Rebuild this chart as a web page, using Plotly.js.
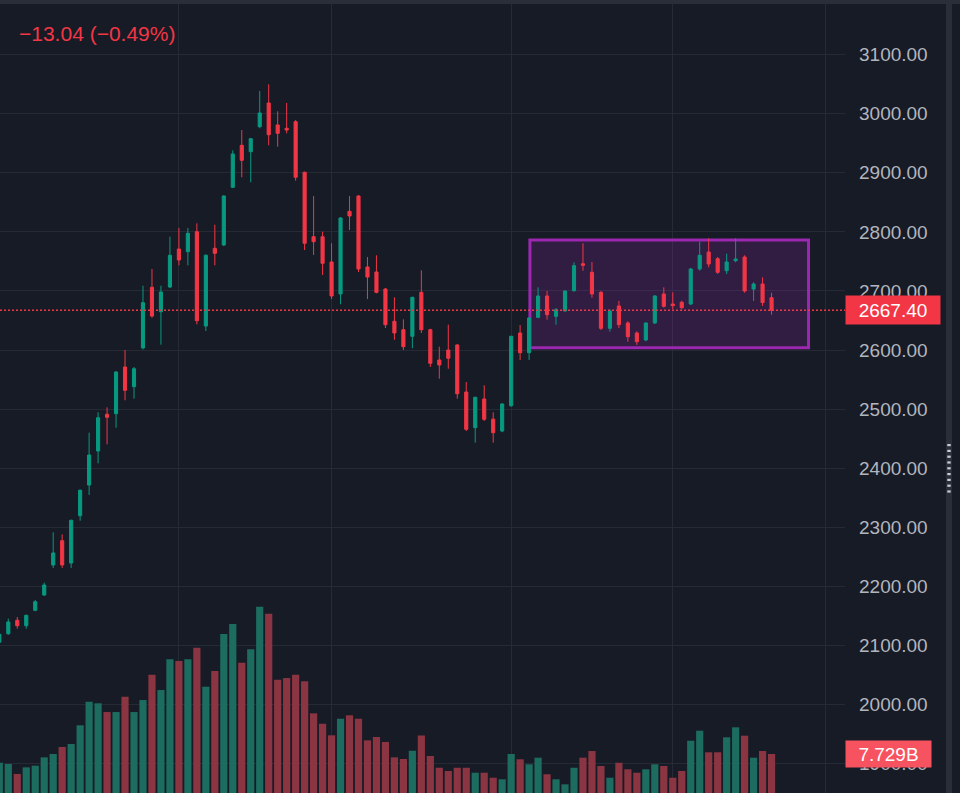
<!DOCTYPE html>
<html>
<head>
<meta charset="utf-8">
<script src="https://cdn.plot.ly/plotly-3.0.1.min.js"></script>
<style>
  html, body { margin: 0; padding: 0; background: #171b26; overflow: hidden; }
  #chart { width: 960px; height: 793px; }
</style>
</head>
<body>
<div id="chart"></div>
<script>
// ---- data (bar index -1 is the partly visible first bar) ----
const openP = [2105.4, 2120.0, 2142.7, 2133.5, 2159.6, 2185.5, 2236.3, 2277.4, 2239.6, 2319.7,
  2371.6, 2429.2, 2491.3, 2492.3, 2571.3, 2538.0, 2603.5, 2706.2, 2664.9, 2706.7,
  2771.0, 2766.5, 2800.3, 2640.7, 2772.2, 2777.8, 2875.4, 2946.5, 2935.7, 2978.0,
  3018.1, 2980.9, 2975.3, 2986.4, 2900.8, 2791.8, 2791.8, 2749.0, 2694.9, 2834.8,
  2860.7, 2740.6, 2732.1, 2703.3, 2648.7, 2634.4, 2623.3, 2697.7, 2634.4, 2583.2,
  2600.1, 2608.6, 2529.0, 2468.6, 2517.2, 2483.1, 2463.0, 2505.8, 2628.9, 2595.5,
  2655.4, 2691.5, 2657.1, 2666.1, 2700.4, 2746.1, 2731.6, 2697.7, 2636.8, 2674.6,
  2645.8, 2628.9, 2617.0, 2645.8, 2694.9, 2677.9, 2680.8, 2677.9, 2737.2, 2765.9,
  2754.6, 2734.3, 2751.2, 2757.5, 2703.3, 2711.8, 2688.6];
const highP = [2121.0, 2145.4, 2148.3, 2152.0, 2177.0, 2206.3, 2291.6, 2288.2, 2313.0, 2364.0,
  2460.1, 2494.7, 2503.1, 2564.0, 2600.1, 2571.3, 2708.9, 2737.2, 2708.9, 2791.8,
  2806.6, 2806.6, 2814.5, 2762.0, 2812.1, 2862.0, 2938.0, 2972.4, 2959.0, 3038.4,
  3049.7, 3004.0, 3018.1, 2989.3, 2902.0, 2860.7, 2800.3, 2780.7, 2825.0, 2860.7,
  2862.0, 2757.5, 2760.4, 2705.0, 2689.3, 2652.0, 2690.0, 2735.0, 2636.0, 2605.7,
  2642.9, 2610.0, 2545.9, 2521.0, 2540.4, 2494.7, 2510.0, 2624.0, 2642.4, 2656.0,
  2706.2, 2699.9, 2671.2, 2701.0, 2748.5, 2780.7, 2749.0, 2699.9, 2669.0, 2683.0,
  2648.7, 2631.7, 2647.0, 2693.0, 2706.2, 2697.7, 2683.5, 2739.0, 2783.4, 2789.1,
  2757.5, 2763.1, 2789.1, 2760.4, 2714.7, 2723.1, 2697.1];
const lowP = [2104.0, 2118.0, 2128.5, 2128.5, 2158.0, 2184.0, 2231.2, 2231.2, 2231.2, 2311.2,
  2354.7, 2408.4, 2440.5, 2468.6, 2515.0, 2517.7, 2601.0, 2654.8, 2609.1, 2705.0,
  2743.4, 2743.4, 2643.6, 2632.2, 2743.4, 2776.0, 2874.0, 2892.4, 2883.9, 2975.3,
  2946.5, 2944.1, 2966.8, 2886.6, 2769.3, 2760.9, 2727.0, 2686.4, 2677.4, 2803.2,
  2732.1, 2686.4, 2696.0, 2637.3, 2617.5, 2600.1, 2603.0, 2628.9, 2571.3, 2551.5,
  2568.4, 2517.7, 2463.0, 2443.2, 2480.0, 2443.2, 2461.0, 2504.0, 2583.2, 2583.2,
  2654.0, 2651.4, 2642.9, 2665.0, 2699.0, 2734.3, 2688.6, 2633.9, 2631.1, 2637.3,
  2614.1, 2608.6, 2615.0, 2644.0, 2671.7, 2669.0, 2669.0, 2676.0, 2734.3, 2740.0,
  2728.7, 2728.7, 2748.5, 2697.1, 2683.0, 2674.6, 2659.8];
const closeP = [2119.0, 2139.8, 2133.5, 2151.1, 2174.1, 2202.4, 2256.6, 2236.3, 2311.9, 2362.7,
  2422.4, 2485.5, 2486.2, 2562.9, 2531.9, 2568.4, 2680.1, 2657.6, 2698.3, 2760.4,
  2752.4, 2797.6, 2649.7, 2760.4, 2763.7, 2860.7, 2931.8, 2921.1, 2957.7, 3001.2,
  2964.4, 2966.8, 2972.4, 2892.4, 2780.7, 2783.4, 2746.8, 2691.5, 2823.5, 2826.9,
  2737.2, 2723.6, 2697.7, 2642.9, 2628.9, 2605.7, 2689.3, 2634.4, 2577.6, 2574.7,
  2586.1, 2526.1, 2465.9, 2520.1, 2482.8, 2460.1, 2508.7, 2623.3, 2595.5, 2654.2,
  2691.5, 2659.8, 2668.3, 2699.9, 2742.8, 2743.4, 2694.9, 2636.8, 2666.1, 2642.9,
  2622.6, 2614.1, 2645.8, 2691.5, 2674.0, 2675.1, 2671.7, 2737.2, 2760.4, 2745.6,
  2731.6, 2749.0, 2754.1, 2699.9, 2711.8, 2680.44, 2667.40];
// volume in billions
const volumeB = [6.00, 5.75, 3.77, 5.09, 5.41, 7.07, 7.73, 9.12, 9.71, 13.42,
  18.09, 17.78, 16.05, 16.05, 19.08, 16.05, 18.43, 23.44, 20.41, 26.50,
  26.16, 26.50, 28.80, 21.07, 24.18, 31.51, 33.49, 25.82, 28.48, 36.92,
  35.53, 22.45, 22.79, 23.44, 22.14, 15.79, 13.73, 11.43, 14.72, 15.40,
  14.72, 10.44, 11.10, 10.11, 7.07, 6.74, 8.38, 11.40, 7.33, 5.01,
  4.36, 5.01, 5.01, 4.02, 4.02, 3.03, 2.72, 7.73, 6.68, 5.69,
  7.00, 3.71, 2.72, 1.72, 5.01, 7.00, 8.32, 5.35, 3.03, 6.00,
  4.70, 4.02, 4.70, 5.69, 5.35, 3.03, 4.36, 10.36, 12.35, 8.07,
  8.07, 11.04, 13.02, 11.36, 7.00, 8.32, 7.729];
const priceTicks = [1900, 2000, 2100, 2200, 2300, 2400, 2500, 2600, 2700, 2800, 2900, 3000, 3100];
const timeGridAt = [19, 36, 56, 74, 91];
// highlighted consolidation box (bar index / price)
const boxBars = [58.09, 89.12];
const boxPrices = [2604.0, 2786.3];

// ---- derived ----
const barIndex = openP.map((_, k) => k - 1);
const UP = '#089981', DOWN = '#f23645';
const volColors = openP.map((o, k) => closeP[k] >= o ? '#1d6c60' : '#8c3542');
const lastClose = closeP[closeP.length - 1];
const prevClose = closeP[closeP.length - 2];
const chg = lastClose - prevClose;
const pct = chg / prevClose * 100;
const minus = '\u2212';
const fmtSigned = v => (v < 0 ? minus : '+') + Math.abs(v).toFixed(2);
const legendText = fmtSigned(chg) + ' (' + fmtSigned(pct) + '%)';
const lastVol = volumeB[volumeB.length - 1];

const W = 960, H = 793, PLOT_W = 845;
const px = v => v / PLOT_W;          // horizontal pixel -> paper x
const py = v => 1 - v / H;           // vertical pixel -> paper y

// candles on the main (right-side) price axis, volume on an overlaid hidden axis
const candleTrace = {
  type: 'candlestick', x: barIndex, open: openP, high: highP, low: lowP, close: closeP,
  xaxis: 'x', yaxis: 'y', whiskerwidth: 0,
  increasing: { line: { color: UP, width: 1 }, fillcolor: UP },
  decreasing: { line: { color: DOWN, width: 1 }, fillcolor: DOWN },
  hoverinfo: 'skip', showlegend: false
};
const volTrace = {
  type: 'bar', x: barIndex, y: volumeB, xaxis: 'x', yaxis: 'y2',
  marker: { color: volColors, line: { width: 0 } }, width: 0.8,
  hoverinfo: 'skip', showlegend: false
};

const shapes = [
  { type: 'rect', xref: 'x', yref: 'y', x0: boxBars[0], x1: boxBars[1], y0: boxPrices[0], y1: boxPrices[1],
    line: { color: '#9c27b0', width: 3 }, fillcolor: 'rgba(156,39,176,0.2)', layer: 'between' },
  { type: 'line', xref: 'paper', yref: 'y', x0: 0, x1: 1, y0: lastClose, y1: lastClose,
    line: { color: DOWN, width: 1.5, dash: '2px,2px' }, layer: 'above' },
  { type: 'rect', xref: 'paper', yref: 'paper', x0: 0, x1: px(W), y0: py(4), y1: 1,
    line: { width: 0 }, fillcolor: '#2a2e39', layer: 'above' },
  { type: 'rect', xref: 'paper', yref: 'paper', x0: px(946), x1: px(952), y0: 0, y1: py(4),
    line: { width: 0 }, fillcolor: '#2a2e39', layer: 'above' }
];
for (let k = 0; k < 9; k++) {
  const top = 444 + k * 5.8;
  shapes.push({ type: 'rect', xref: 'paper', yref: 'paper', x0: px(947.3), x1: px(950.7),
    y0: py(top + 2.2), y1: py(top), line: { width: 0 }, fillcolor: '#c9ccd4', layer: 'above' });
}

const FONT = 'Liberation Sans, Arial, sans-serif';
const layout = {
  width: W, height: H,
  margin: { l: 0, r: W - PLOT_W, t: 0, b: 0, pad: 0 },
  paper_bgcolor: '#171b26', plot_bgcolor: '#171b26',
  font: { family: FONT, color: '#b2b5be' },
  showlegend: false, boxgap: 0.5, bargap: 0.2, dragmode: false, hovermode: false,
  xaxis: {
    range: [-0.924, 93.18], tickvals: timeGridAt, showticklabels: false, ticks: '',
    showgrid: true, gridcolor: '#262a35', gridwidth: 1, zeroline: false, showline: false,
    rangeslider: { visible: false }, fixedrange: true
  },
  yaxis: {
    side: 'right', range: [1850.4, 3192.4],
    tickvals: priceTicks, ticktext: priceTicks.map(v => v.toFixed(2)),
    tickfont: { family: FONT, size: 19, color: '#b2b5be' }, ticks: '', ticklabelstandoff: 13,
    showgrid: true, gridcolor: '#262a35', gridwidth: 1, zeroline: false, showline: false,
    fixedrange: true
  },
  yaxis2: {
    overlaying: 'y', side: 'left', range: [0, 157.2], visible: false,
    showgrid: false, zeroline: false, fixedrange: true
  },
  shapes: shapes,
  annotations: [
    { xref: 'paper', yref: 'paper', x: px(17), y: py(34), xanchor: 'left', yanchor: 'middle',
      text: legendText, showarrow: false, font: { family: FONT, size: 21, color: DOWN } },
    { xref: 'paper', yref: 'y', x: 1, y: lastClose, xanchor: 'left', yanchor: 'middle',
      text: lastClose.toFixed(2), showarrow: false, bgcolor: DOWN, borderpad: 0,
      width: 94, height: 28, align: 'center', font: { family: FONT, size: 19, color: '#ffffff' } },
    { xref: 'paper', yref: 'y2', x: 1, y: lastVol, xanchor: 'left', yanchor: 'middle',
      text: lastVol.toFixed(3) + 'B', showarrow: false, bgcolor: '#f7525f', borderpad: 0,
      width: 85, height: 26, align: 'center', font: { family: FONT, size: 19, color: '#ffffff' } }
  ]
};

Plotly.newPlot('chart', [candleTrace, volTrace], layout, { displayModeBar: false, staticPlot: true });
</script>
</body>
</html>
